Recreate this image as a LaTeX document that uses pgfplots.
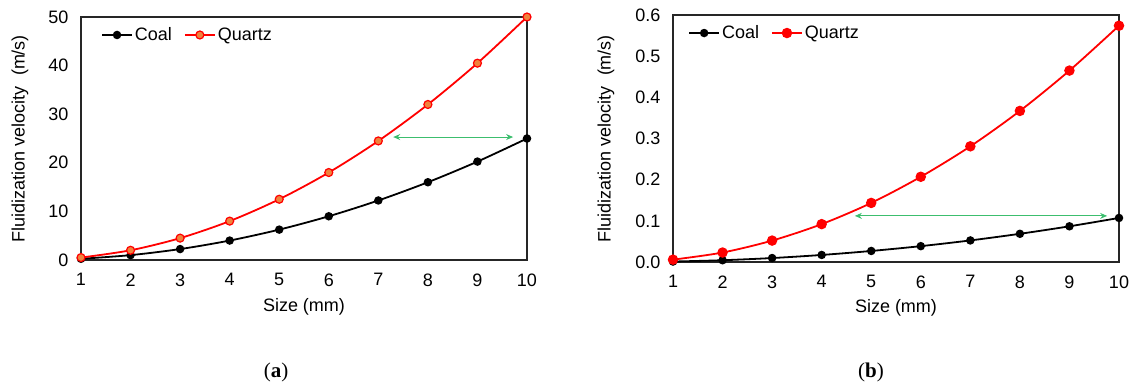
\documentclass[border=0pt]{standalone}
\usepackage{pgfplots}
\pgfplotsset{compat=1.18}
\usepackage{fontspec}
\setmainfont{Liberation Sans}
\newfontfamily\serifbold{Liberation Serif}
\usetikzlibrary{arrows.meta}
\definecolor{qred}{RGB}{255,0,0}
\definecolor{qorange}{RGB}{240,130,60}
\definecolor{arrgreen}{RGB}{60,190,110}
\begin{document}
\begin{tikzpicture}[x=1pt,y=1pt,font=\fontsize{18}{21}\selectfont]
\useasboundingbox (0,0) rectangle (1132,385);
\pgfplotsset{
  myaxis/.style={
    scale only axis,
    anchor=south west,
    xmin=1, xmax=10,
    xtick={1,...,10},
    ymin=0,
    axis line style={line width=1.3pt, black!85},
    major tick length=0pt,
    /pgf/number format/assume math mode=true,
    xticklabel style={yshift=-10pt},
    yticklabel style={xshift=-9pt},
    xlabel={Size (mm)},
    ylabel={Fluidization velocity~~(m/s)},
    clip=false,
    legend columns=2,
    legend cell align=left,
    legend style={draw=none, fill=none, anchor=west, /tikz/every even column/.append style={column sep=10pt}},
    legend image code/.code={\draw[mark repeat=2,mark phase=2] plot coordinates {(0pt,0pt) (15pt,0pt) (30pt,0pt)};},
  },
}
% ---------- (a)
\begin{axis}[myaxis,
  at={(81pt,125pt)}, width=446pt, height=243pt,
  ymax=50, ytick={0,10,...,50},
  xlabel style={at={(axis description cs:0.5,0)}, anchor=center, yshift=-47pt},
  ylabel style={at={(axis description cs:0,0.5)}, anchor=center, yshift=61pt},
  legend style={at={(axis description cs:0.038,0.926)}},
]
\addplot[black, line width=1.8pt, smooth, mark=*, mark size=3.3pt] coordinates {
(1,0.25) (2,1) (3,2.25) (4,4) (5,6.25) (6,9) (7,12.25) (8,16) (9,20.25) (10,25)};
\addlegendentry{Coal}
\addplot[qred, line width=1.8pt, smooth, mark=*, mark size=4pt, mark options={fill=qorange, draw=qred, line width=1.2pt}] coordinates {
(1,0.5) (2,2) (3,4.5) (4,8) (5,12.5) (6,18) (7,24.5) (8,32) (9,40.5) (10,50)};
\addlegendentry{Quartz}
\draw[arrgreen, line width=0.9pt, {Stealth[length=7pt,width=6pt]}-{Stealth[length=7pt,width=6pt]}] (axis cs:7.30,25.3) -- (axis cs:9.72,25.3);
\end{axis}
% ---------- (b)
\begin{axis}[myaxis,
  at={(673pt,123pt)}, width=446pt, height=247pt,
  ymax=0.6, ytick={0,0.1,...,0.6},
  yticklabel style={/pgf/number format/.cd, fixed, fixed zerofill, precision=1},
  xlabel style={at={(axis description cs:0.5,0)}, anchor=center, yshift=-46pt},
  ylabel style={at={(axis description cs:0,0.5)}, anchor=center, yshift=67pt},
  legend style={at={(axis description cs:0.027,0.927)}},
]
\addplot[black, line width=1.8pt, smooth, mark=*, mark size=3.3pt] coordinates {
(1,0.0011) (2,0.0043) (3,0.0096) (4,0.0171) (5,0.0268) (6,0.0385) (7,0.0524) (8,0.0685) (9,0.0867) (10,0.107)};
\addlegendentry{Coal}
\addplot[qred, line width=1.8pt, smooth, mark=*, mark size=4.3pt, mark options={fill=qred, draw=qred}] coordinates {
(1,0.0057) (2,0.023) (3,0.052) (4,0.092) (5,0.1435) (6,0.207) (7,0.281) (8,0.367) (9,0.465) (10,0.574)};
\addlegendentry{Quartz}
\draw[arrgreen, line width=0.9pt, {Stealth[length=7pt,width=6pt]}-{Stealth[length=7pt,width=6pt]}] (axis cs:4.67,0.112) -- (axis cs:9.76,0.112);
\end{axis}
\node[font=\serifbold\fontsize{21}{24}\selectfont] at (276,13) {(\textbf{a})};
\node[font=\serifbold\fontsize{21}{24}\selectfont] at (871,13) {(\textbf{b})};
\end{tikzpicture}
\end{document}
